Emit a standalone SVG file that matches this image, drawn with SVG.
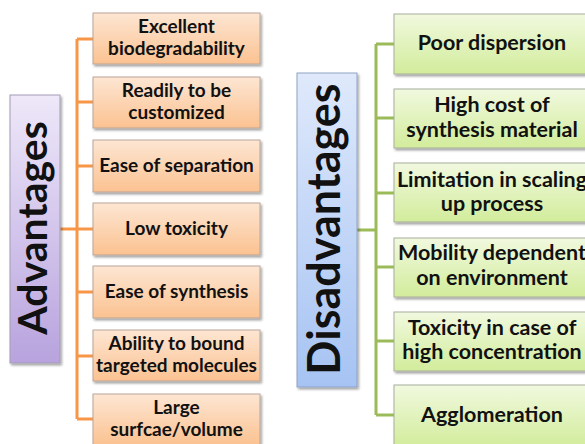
<svg xmlns="http://www.w3.org/2000/svg" width="585" height="444" viewBox="0 0 585 444">
<defs>
<linearGradient id="gOr" x1="0" y1="0" x2="0" y2="1"><stop offset="0" stop-color="#fde6d3"/><stop offset="1" stop-color="#fbc291"/></linearGradient>
<linearGradient id="gGr" x1="0" y1="0" x2="0" y2="1"><stop offset="0" stop-color="#f1f9df"/><stop offset="1" stop-color="#d2ec9b"/></linearGradient>
<linearGradient id="gPu" x1="0" y1="0" x2="0" y2="1"><stop offset="0" stop-color="#eee8f9"/><stop offset="1" stop-color="#b8a3de"/></linearGradient>
<linearGradient id="gBl" x1="0" y1="0" x2="0" y2="1"><stop offset="0" stop-color="#dfe9fb"/><stop offset="1" stop-color="#a6c3f3"/></linearGradient>
<filter id="sh" x="-10%" y="-10%" width="130%" height="130%"><feDropShadow dx="1.5" dy="2" stdDeviation="1.2" flood-color="#000" flood-opacity="0.35"/></filter>
</defs>
<style>
.or{fill:url(#gOr);stroke:#b9a597;stroke-width:1;filter:url(#sh)}
.gr{fill:url(#gGr);stroke:#a7ad99;stroke-width:1;filter:url(#sh)}
.pu{fill:url(#gPu);stroke:#a39cb3;stroke-width:1;filter:url(#sh)}
.bl{fill:url(#gBl);stroke:#8fa3c4;stroke-width:1;filter:url(#sh)}
text{font-family:Lato,"Liberation Sans",sans-serif;font-weight:700;fill:#111;text-anchor:middle}
.t1{font-size:19px}
.t2{font-size:21.5px}
.big{font-size:41px}
.big2{font-size:45px}
.co{fill:none;stroke:#f79646;stroke-width:3}
.cg{fill:none;stroke:#9bbb59;stroke-width:3}
</style>
<g id="connectors">
<path class="co" d="M60 229H77M77 39V419M77 39H93M77 102H93M77 166H93M77 229H93M77 292H93M77 356H93M77 419H93"/>
<path class="cg" d="M357 230H376M376 44V415M376 44H394M376 118H394M376 193H394M376 267H394M376 341H394M376 415H394"/>
</g>
<g id="advantages"><rect class="pu" x="10" y="95" width="50" height="268"/><text class="big" transform="translate(47,228) rotate(-90)">Advantages</text></g>
<g id="a1"><rect class="or" x="93" y="13" width="167" height="51"/><text class="t1" x="176.5" y="33">Excellent</text><text class="t1" x="176.5" y="55">biodegradability</text></g>
<g id="a2"><rect class="or" x="93" y="77" width="167" height="51"/><text class="t1" x="176.5" y="97">Readily to be</text><text class="t1" x="176.5" y="119">customized</text></g>
<g id="a3"><rect class="or" x="93" y="140" width="167" height="52"/><text class="t1" x="176.5" y="172">Ease of separation</text></g>
<g id="a4"><rect class="or" x="93" y="203" width="167" height="52"/><text class="t1" x="176.5" y="235">Low toxicity</text></g>
<g id="a5"><rect class="or" x="93" y="266" width="167" height="52"/><text class="t1" x="176.5" y="298">Ease of synthesis</text></g>
<g id="a6"><rect class="or" x="93" y="330" width="167" height="51"/><text class="t1" x="176.5" y="350">Ability to bound</text><text class="t1" x="176.5" y="372">targeted molecules</text></g>
<g id="a7"><rect class="or" x="93" y="394" width="167" height="51"/><text class="t1" x="176.5" y="414">Large</text><text class="t1" x="176.5" y="436">surfcae/volume</text></g>
<g id="disadvantages"><rect class="bl" x="297" y="73" width="60" height="314"/><text class="big2" transform="translate(340,229) rotate(-90)">Disadvantages</text></g>
<g id="d1"><rect class="gr" x="394" y="14" width="196" height="60"/><text class="t2" x="492" y="50">Poor dispersion</text></g>
<g id="d2"><rect class="gr" x="394" y="89" width="196" height="59"/><text class="t2" x="492" y="112">High cost of</text><text class="t2" x="492" y="137">synthesis material</text></g>
<g id="d3"><rect class="gr" x="394" y="163" width="196" height="59"/><text class="t2" x="492" y="187">Limitation in scaling</text><text class="t2" x="492" y="211">up process</text></g>
<g id="d4"><rect class="gr" x="394" y="238" width="196" height="59"/><text class="t2" x="492" y="260">Mobility dependent</text><text class="t2" x="492" y="285">on environment</text></g>
<g id="d5"><rect class="gr" x="394" y="312" width="196" height="59"/><text class="t2" x="492" y="335">Toxicity in case of</text><text class="t2" x="492" y="359">high concentration</text></g>
<g id="d6"><rect class="gr" x="394" y="385" width="196" height="62"/><text class="t2" x="492" y="422">Agglomeration</text></g>
</svg>
